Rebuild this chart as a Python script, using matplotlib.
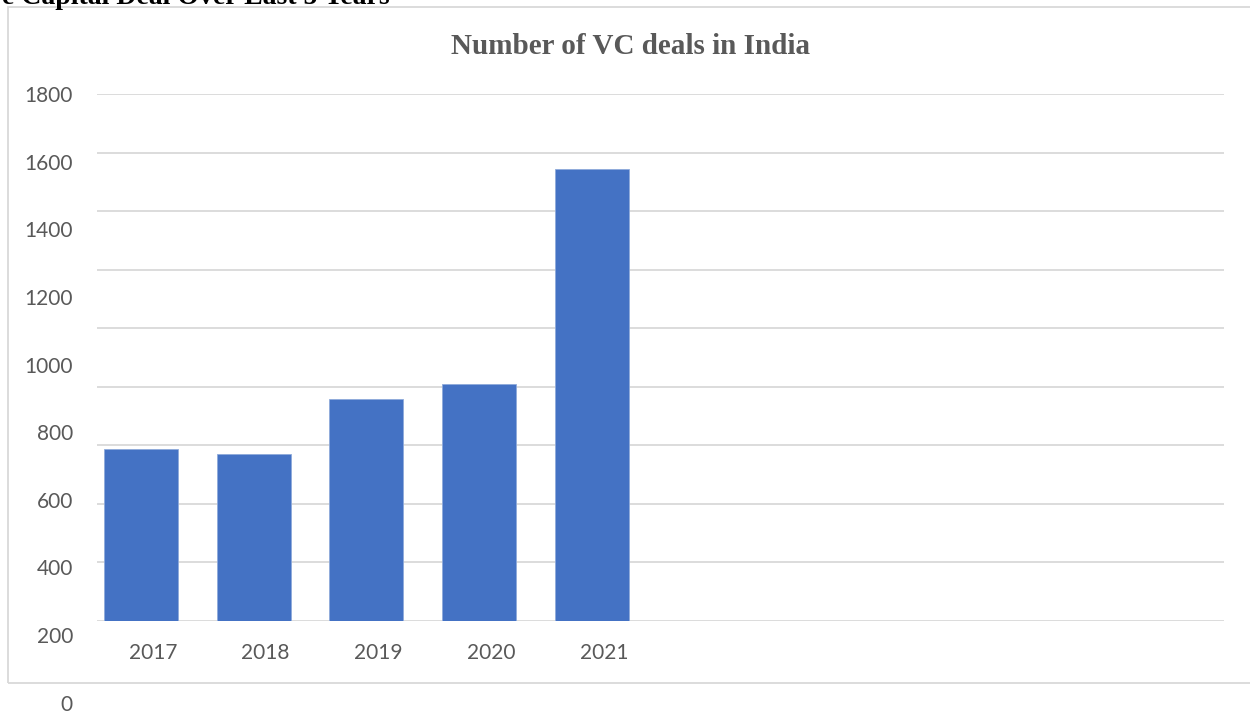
import matplotlib
matplotlib.use("Agg")
import matplotlib.pyplot as plt
from matplotlib.patches import Rectangle
import numpy as np

# deal counts per year
years = ["2017", "2018", "2019", "2020", "2021"]
deals = [588, 570, 756, 808, 1544]
y_ticks = [0, 200, 400, 600, 800, 1000, 1200, 1400, 1600, 1800]

W, H = 1250, 713
grey = "#595959"
grid_c = "#d9d9d9"
bar_c = "#4472C4"

fig = plt.figure(figsize=(W / 100, H / 100), dpi=100)

# chart frame
fig.patches.append(Rectangle((7.5 / W, (H - 683) / H), (W + 5 - 7.5) / W, (683 - 7) / H,
                             transform=fig.transFigure, fill=False,
                             edgecolor=grid_c, linewidth=1.3, zorder=0))

# plot area, ten category slots
ax = fig.add_axes([96.5 / W, (H - 620.5) / H, (1224 - 96.5) / W, (620.5 - 94) / H])
ax.set_xlim(-0.5, 9.5)
ax.set_ylim(0, 1800)
x = np.arange(len(years))
ax.bar(x - 0.107, deals, width=0.656, color=bar_c, edgecolor="#8eaadb",
       linewidth=0.6, zorder=3)
ax.set_yticks(y_ticks)
ax.yaxis.grid(True, color=grid_c, linewidth=1.3, zorder=0)
ax.tick_params(axis="y", left=False, labelleft=False)
ax.set_xticks(x)
ax.set_xticklabels(years, fontfamily="Lato", fontsize=15, color=grey)
ax.tick_params(axis="x", length=0, pad=16)
for s in ["top", "right", "left", "bottom"]:
    ax.spines[s].set_visible(False)

# value labels on their own scale
lab = fig.add_axes([96.5 / W, (H - 702.7) / H, 0.01, (702.7 - 94) / H])
lab.set_ylim(0, 1800)
lab.set_yticks(y_ticks)
lab.set_yticklabels([str(t) for t in y_ticks], fontfamily="Lato", fontsize=15, color=grey)
lab.tick_params(axis="y", length=0, pad=17)
lab.set_xticks([])
lab.patch.set_alpha(0)
for s in lab.spines.values():
    s.set_visible(False)

fig.text(630.3 / W, (H - 54) / H, "Number of VC deals in India",
         fontfamily="Liberation Serif", fontweight="bold", fontsize=21,
         color=grey, ha="center", va="baseline")

fig.text(390 / W, (H - 3.5) / H, "Venture Capital Deal Over Last 5 Years",
         fontfamily="Liberation Serif", fontweight="bold", fontsize=20,
         color="black", ha="right", va="baseline")

fig.savefig("out.png", dpi=100)
